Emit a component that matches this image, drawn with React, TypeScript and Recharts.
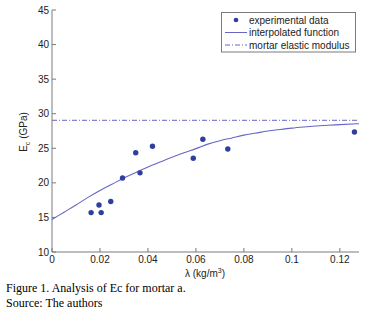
import { ComposedChart, Scatter, Line, XAxis, YAxis, ReferenceLine } from 'recharts';

// measured points (lambda in kg/m3, Ec in GPa)
const expLambda = [0.0163, 0.0196, 0.0205, 0.0245, 0.0294, 0.0349, 0.0367, 0.0419, 0.0589, 0.0629, 0.0733, 0.1261];
const expEc = [15.7, 16.8, 15.7, 17.3, 20.7, 24.35, 21.45, 25.3, 23.55, 26.3, 24.9, 27.35];

// interpolated function
const fitLambda = [0, 0.005, 0.01, 0.015, 0.02, 0.025, 0.03, 0.035, 0.04, 0.045, 0.05, 0.055, 0.06, 0.065, 0.07, 0.075, 0.08, 0.085, 0.09, 0.095, 0.1, 0.105, 0.11, 0.115, 0.12, 0.128];
const fitEc = [14.7, 15.75, 16.8, 17.9, 18.9, 19.8, 20.7, 21.5, 22.3, 23.0, 23.7, 24.35, 24.95, 25.6, 26.1, 26.5, 26.9, 27.2, 27.5, 27.72, 27.92, 28.08, 28.22, 28.33, 28.42, 28.55];

const mortarModulus = 29.05;

const xTicks = [0, 0.02, 0.04, 0.06, 0.08, 0.1, 0.12];
const yTicks = [10, 15, 20, 25, 30, 35, 40, 45];

const points = expLambda.map((x, i) => ({ x, y: expEc[i] }));
const curve = fitLambda.map((x, i) => ({ x, y: fitEc[i] }));

const AXIS = '#7a7a7a';
const TXT = '#222';
const LINE = '#6666c4';
const DOT = '#2f3f9e';
const FONT = '"Liberation Sans", Arial, sans-serif';

const BottomTick = ({ x, y, payload }: any) => (
  <g>
    <line x1={x} y1={y} x2={x} y2={y - 4} stroke={AXIS} />
    <text x={x} y={y + 11} textAnchor="middle" fontSize={10} fontFamily={FONT} fill={TXT}>
      {String(payload.value)}
    </text>
  </g>
);

const TopTick = ({ x, y }: any) => <line x1={x} y1={y} x2={x} y2={y + 4} stroke={AXIS} />;

const LeftTick = ({ x, y, payload }: any) => (
  <g>
    <line x1={x} y1={y} x2={x + 4} y2={y} stroke={AXIS} />
    <text x={x - 3} y={y + 3.5} textAnchor="end" fontSize={10} fontFamily={FONT} fill={TXT}>
      {payload.value}
    </text>
  </g>
);

const RightTick = ({ x, y }: any) => <line x1={x} y1={y} x2={x - 4} y2={y} stroke={AXIS} />;

export default function App() {
  return (
    <div style={{ position: 'absolute', left: 0, top: 0, width: 369, height: 316, background: '#fff' }}>
      <ComposedChart width={369} height={282} margin={{ top: 10, right: 10, bottom: 0, left: 0 }}>
        <XAxis
          dataKey="x"
          type="number"
          domain={[0, 0.128]}
          ticks={xTicks}
          height={30}
          tickSize={0}
          tickMargin={0}
          tickLine={false}
          tick={<BottomTick />}
          axisLine={{ stroke: AXIS }}
          allowDataOverflow
        />
        <XAxis
          xAxisId="top"
          orientation="top"
          type="number"
          domain={[0, 0.128]}
          ticks={xTicks}
          height={0}
          tickSize={0}
          tickMargin={0}
          tickLine={false}
          tick={<TopTick />}
          axisLine={{ stroke: AXIS }}
        />
        <YAxis
          dataKey="y"
          type="number"
          domain={[10, 45]}
          ticks={yTicks}
          width={52}
          tickSize={0}
          tickMargin={0}
          tickLine={false}
          tick={<LeftTick />}
          axisLine={{ stroke: AXIS }}
          allowDataOverflow
        />
        <YAxis
          yAxisId="right"
          orientation="right"
          type="number"
          domain={[10, 45]}
          ticks={yTicks}
          width={0}
          tickSize={0}
          tickMargin={0}
          tickLine={false}
          tick={<RightTick />}
          axisLine={{ stroke: AXIS }}
        />
        <ReferenceLine y={mortarModulus} stroke={LINE} strokeWidth={1} strokeDasharray="5 2 1 2" />
        <Line
          data={curve}
          dataKey="y"
          type="monotone"
          stroke={LINE}
          strokeWidth={1.1}
          dot={false}
          isAnimationActive={false}
        />
        <Scatter
          data={points}
          dataKey="y"
          fill={DOT}
          isAnimationActive={false}
          shape={(p: any) => <circle cx={p.cx} cy={p.cy} r={2.7} fill={DOT} />}
        />
      </ComposedChart>

      <svg width={369} height={316} style={{ position: 'absolute', left: 0, top: 0, pointerEvents: 'none' }}>
        {/* legend */}
        <rect x={221.5} y={12.5} width={134} height={39.5} fill="#fff" stroke={AXIS} />
        <circle cx={236} cy={20} r={2.3} fill={DOT} />
        <text x={249} y={23.5} fontSize={10} fontFamily={FONT} fill={TXT}>experimental data</text>
        <line x1={225} y1={32.5} x2={247} y2={32.5} stroke={LINE} />
        <text x={249} y={36} fontSize={10} fontFamily={FONT} fill={TXT}>interpolated function</text>
        <line x1={225} y1={45} x2={247} y2={45} stroke={LINE} strokeDasharray="5 2 1 2" />
        <text x={249} y={48.5} fontSize={10} fontFamily={FONT} fill={TXT}>mortar elastic modulus</text>

        {/* axis titles */}
        <text x={205} y={277} textAnchor="middle" fontSize={10} fontFamily={FONT} fill={TXT}>
          λ (kg/m<tspan dy={-4} fontSize={7}>3</tspan><tspan dy={4}>)</tspan>
        </text>
        <text
          transform="translate(27,132) rotate(-90)"
          textAnchor="middle"
          fontSize={10}
          fontFamily={FONT}
          fill={TXT}
        >
          E<tspan dy={3} fontSize={7}>c</tspan><tspan dy={-3}> (GPa)</tspan>
        </text>

        {/* caption */}
        <text x={6} y={292} fontSize={12} fontFamily='"Liberation Serif", "Times New Roman", serif' fill="#000">
          Figure 1. Analysis of Ec for mortar a.
        </text>
        <text x={6} y={307} fontSize={12} fontFamily='"Liberation Serif", "Times New Roman", serif' fill="#000">
          Source: The authors
        </text>
      </svg>
    </div>
  );
}
